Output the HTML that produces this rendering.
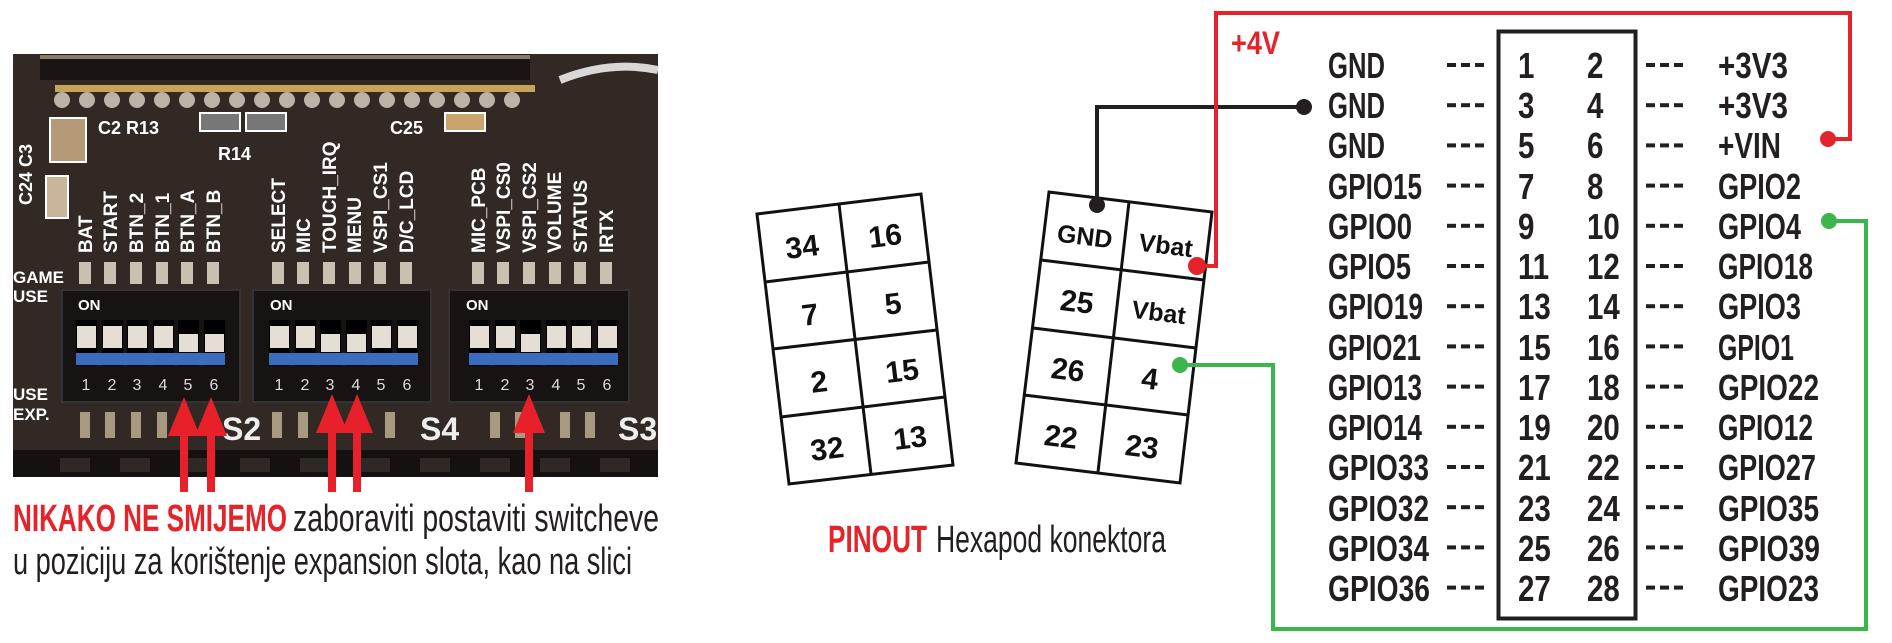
<!DOCTYPE html>
<html><head><meta charset="utf-8"><style>
html,body{margin:0;padding:0;background:#fff;}
svg{display:block;}
</style></head><body>
<svg width="1892" height="643" viewBox="0 0 1892 643" xmlns="http://www.w3.org/2000/svg" font-family="Liberation Sans, sans-serif">
<!-- PHOTO -->
<rect x="13" y="54" width="645" height="423" fill="#322924"/>
<rect x="40" y="54" width="490" height="26" fill="#1a1513"/>
<rect x="40" y="55" width="490" height="4" fill="#8a7a68"/>
<path d="M560 80 Q610 60 658 70" stroke="#d8d8d8" stroke-width="8" fill="none"/>
<rect x="55" y="85" width="480" height="7" fill="#c9a35a"/>
<g fill="#b9b3a8">
<circle cx="62" cy="100" r="8"/><circle cx="87" cy="100" r="8"/><circle cx="112" cy="100" r="8"/><circle cx="137" cy="100" r="8"/><circle cx="162" cy="100" r="8"/><circle cx="187" cy="100" r="8"/><circle cx="212" cy="100" r="8"/><circle cx="237" cy="100" r="8"/><circle cx="262" cy="100" r="8"/><circle cx="287" cy="100" r="8"/><circle cx="312" cy="100" r="8"/><circle cx="337" cy="100" r="8"/><circle cx="362" cy="100" r="8"/><circle cx="387" cy="100" r="8"/><circle cx="412" cy="100" r="8"/><circle cx="437" cy="100" r="8"/><circle cx="462" cy="100" r="8"/><circle cx="487" cy="100" r="8"/><circle cx="512" cy="100" r="8"/>
</g>
<rect x="50" y="118" width="36" height="44" fill="#b59a78" stroke="#fff" stroke-width="2"/>
<rect x="46" y="176" width="22" height="42" fill="#c8b59a" stroke="#fff" stroke-width="2"/>
<rect x="200" y="113" width="40" height="18" fill="#777" stroke="#fff" stroke-width="2"/>
<rect x="246" y="113" width="40" height="18" fill="#777" stroke="#fff" stroke-width="2"/>
<rect x="445" y="113" width="40" height="18" fill="#c9a46c" stroke="#fff" stroke-width="2"/>
<g fill="#fff" font-weight="bold" font-size="18">
<text x="98" y="134">C2 R13</text>
<text x="218" y="160">R14</text>
<text x="390" y="134">C25</text>
<text transform="translate(32,205) rotate(-90)">C24 C3</text>
<text x="13" y="283" font-size="17">GAME</text>
<text x="13" y="302" font-size="17">USE</text>
<text x="13" y="400" font-size="17">USE</text>
<text x="13" y="420" font-size="17">EXP.</text>
</g>
<g fill="#fff" font-weight="bold" font-size="19">
<text transform="translate(92,253) rotate(-90)">BAT</text>
<text transform="translate(117,253) rotate(-90)">START</text>
<text transform="translate(143,253) rotate(-90)">BTN_2</text>
<text transform="translate(169,253) rotate(-90)">BTN_1</text>
<text transform="translate(194,253) rotate(-90)">BTN_A</text>
<text transform="translate(220,253) rotate(-90)">BTN_B</text>
<text transform="translate(285,253) rotate(-90)">SELECT</text>
<text transform="translate(310,253) rotate(-90)">MIC</text>
<text transform="translate(336,253) rotate(-90)">TOUCH_IRQ</text>
<text transform="translate(361,253) rotate(-90)">MENU</text>
<text transform="translate(387,253) rotate(-90)">VSPI_CS1</text>
<text transform="translate(413,253) rotate(-90)">D/C_LCD</text>
<text transform="translate(485,253) rotate(-90)">MIC_PCB</text>
<text transform="translate(510,253) rotate(-90)">VSPI_CS0</text>
<text transform="translate(536,253) rotate(-90)">VSPI_CS2</text>
<text transform="translate(561,253) rotate(-90)">VOLUME</text>
<text transform="translate(587,253) rotate(-90)">STATUS</text>
<text transform="translate(613,253) rotate(-90)">IRTX</text>
</g>
<g fill="#c8c0b0">
<rect x="79" y="262" width="12" height="22"/><rect x="104" y="262" width="12" height="22"/><rect x="130" y="262" width="12" height="22"/><rect x="156" y="262" width="12" height="22"/><rect x="181" y="262" width="12" height="22"/><rect x="207" y="262" width="12" height="22"/>
<rect x="272" y="262" width="12" height="22"/><rect x="297" y="262" width="12" height="22"/><rect x="323" y="262" width="12" height="22"/><rect x="349" y="262" width="12" height="22"/><rect x="374" y="262" width="12" height="22"/><rect x="400" y="262" width="12" height="22"/>
<rect x="472" y="262" width="12" height="22"/><rect x="497" y="262" width="12" height="22"/><rect x="523" y="262" width="12" height="22"/><rect x="549" y="262" width="12" height="22"/><rect x="574" y="262" width="12" height="22"/><rect x="600" y="262" width="12" height="22"/>
</g>
<g>
<rect x="62" y="290" width="178" height="112" fill="#161312" stroke="#333" stroke-width="2"/>
<rect x="253" y="290" width="178" height="112" fill="#161312" stroke="#333" stroke-width="2"/>
<rect x="449" y="290" width="180" height="112" fill="#161312" stroke="#333" stroke-width="2"/>
</g>
<g fill="#fff" font-weight="bold" font-size="15">
<text x="78" y="310">ON</text><text x="270" y="310">ON</text><text x="466" y="310">ON</text>
</g>
<g fill="#000">
<rect x="76" y="320" width="21" height="46"/><rect x="102" y="320" width="21" height="46"/><rect x="127" y="320" width="21" height="46"/><rect x="153" y="320" width="21" height="46"/><rect x="178" y="320" width="21" height="46"/><rect x="204" y="320" width="21" height="46"/>
<rect x="269" y="320" width="21" height="46"/><rect x="295" y="320" width="21" height="46"/><rect x="320" y="320" width="21" height="46"/><rect x="346" y="320" width="21" height="46"/><rect x="371" y="320" width="21" height="46"/><rect x="397" y="320" width="21" height="46"/>
<rect x="469" y="320" width="21" height="46"/><rect x="495" y="320" width="21" height="46"/><rect x="520" y="320" width="21" height="46"/><rect x="546" y="320" width="21" height="46"/><rect x="571" y="320" width="21" height="46"/><rect x="597" y="320" width="21" height="46"/>
</g>
<g fill="#3a6cc0">
<rect x="76" y="353" width="149" height="12"/><rect x="269" y="353" width="149" height="12"/><rect x="469" y="353" width="149" height="12"/>
</g>
<g fill="#e4ded4">
<rect x="77" y="326" width="19" height="22"/><rect x="103" y="326" width="19" height="22"/><rect x="128" y="326" width="19" height="22"/><rect x="154" y="326" width="19" height="22"/><rect x="179" y="334" width="19" height="18"/><rect x="205" y="334" width="19" height="18"/>
<rect x="270" y="326" width="19" height="22"/><rect x="296" y="326" width="19" height="22"/><rect x="321" y="334" width="19" height="18"/><rect x="347" y="334" width="19" height="18"/><rect x="372" y="326" width="19" height="22"/><rect x="398" y="326" width="19" height="22"/>
<rect x="470" y="326" width="19" height="22"/><rect x="496" y="326" width="19" height="22"/><rect x="521" y="334" width="19" height="18"/><rect x="547" y="326" width="19" height="22"/><rect x="572" y="326" width="19" height="22"/><rect x="598" y="326" width="19" height="22"/>
</g>
<g fill="#ddd" font-size="16" text-anchor="middle">
<text x="86" y="390">1</text><text x="112" y="390">2</text><text x="137" y="390">3</text><text x="163" y="390">4</text><text x="188" y="390">5</text><text x="214" y="390">6</text>
<text x="279" y="390">1</text><text x="305" y="390">2</text><text x="330" y="390">3</text><text x="356" y="390">4</text><text x="381" y="390">5</text><text x="407" y="390">6</text>
<text x="479" y="390">1</text><text x="505" y="390">2</text><text x="530" y="390">3</text><text x="556" y="390">4</text><text x="581" y="390">5</text><text x="607" y="390">6</text>
</g>
<g fill="#a89a80">
<rect x="80" y="412" width="10" height="26"/><rect x="105" y="412" width="10" height="26"/><rect x="131" y="412" width="10" height="26"/><rect x="157" y="412" width="10" height="26"/>
<rect x="272" y="412" width="10" height="26"/><rect x="298" y="412" width="10" height="26"/><rect x="385" y="412" width="10" height="26"/>
<rect x="490" y="412" width="10" height="26"/><rect x="515" y="412" width="10" height="26"/><rect x="560" y="412" width="10" height="26"/><rect x="585" y="412" width="10" height="26"/>
</g>
<g fill="#eee" font-weight="bold" font-size="32">
<text x="222" y="440">S2</text><text x="420" y="440">S4</text><text x="618" y="440">S3</text>
</g>
<rect x="13" y="450" width="645" height="27" fill="#141110"/>
<g fill="#2e2826"><rect x="60" y="458" width="30" height="14"/><rect x="120" y="458" width="30" height="14"/><rect x="180" y="458" width="30" height="14"/><rect x="240" y="458" width="30" height="14"/><rect x="300" y="458" width="30" height="14"/><rect x="360" y="458" width="30" height="14"/><rect x="420" y="458" width="30" height="14"/><rect x="480" y="458" width="30" height="14"/><rect x="540" y="458" width="30" height="14"/><rect x="600" y="458" width="30" height="14"/></g>
<g fill="#e8202a">
<rect x="180" y="420" width="8" height="72"/><polygon points="184,397 168,436 200,436"/>
<rect x="207" y="420" width="8" height="72"/><polygon points="211,397 195,436 227,436"/>
<rect x="328" y="420" width="8" height="72"/><polygon points="332,394 316,433 348,433"/>
<rect x="353" y="420" width="8" height="72"/><polygon points="357,394 341,433 373,433"/>
<rect x="525" y="420" width="8" height="72"/><polygon points="529,394 513,433 545,433"/>
</g>
<text x="13" y="531" font-size="38" font-weight="bold" fill="#e4232b" textLength="274" lengthAdjust="spacingAndGlyphs">NIKAKO NE SMIJEMO</text>
<text x="293" y="531" font-size="38" fill="#231f20" textLength="366" lengthAdjust="spacingAndGlyphs">zaboraviti postaviti switcheve</text>
<text x="13" y="574" font-size="38" fill="#231f20" textLength="619" lengthAdjust="spacingAndGlyphs">u poziciju za korištenje expansion slota, kao na slici</text>

<g fill="none" stroke="#111" stroke-width="3">
<polygon points="757,214 921,194 953,465 789,484" fill="#fff"/>
<line x1="839" y1="204" x2="871" y2="474"/>
<line x1="765" y1="282" x2="929" y2="262"/>
<line x1="773" y1="349" x2="937" y2="330"/>
<line x1="781" y1="417" x2="945" y2="397"/>
</g>
<g font-weight="bold" font-size="30" fill="#111" text-anchor="middle">
<text x="802" y="257" transform="rotate(-7 802 246)">34</text>
<text x="885" y="246" transform="rotate(-7 885 235)">16</text>
<text x="810" y="325" transform="rotate(-7 810 314)">7</text>
<text x="893" y="314" transform="rotate(-7 893 303)">5</text>
<text x="819" y="392" transform="rotate(-7 819 381)">2</text>
<text x="902" y="381" transform="rotate(-7 902 370)">15</text>
<text x="827" y="459" transform="rotate(-7 827 448)">32</text>
<text x="910" y="448" transform="rotate(-7 910 437)">13</text>
</g>
<g fill="none" stroke="#111" stroke-width="3">
<polygon points="1049,192 1212,212 1180,483 1016,463" fill="#fff"/>
<line x1="1129" y1="202" x2="1098" y2="472"/>
<line x1="1041" y1="260" x2="1204" y2="280"/>
<line x1="1033" y1="328" x2="1196" y2="348"/>
<line x1="1024" y1="395" x2="1188" y2="415"/>
</g>
<g font-weight="bold" font-size="30" fill="#111" text-anchor="middle">
<text x="1085" y="245" font-size="25" transform="rotate(7 1085 235)">GND</text>
<text x="1166" y="254" font-size="25" transform="rotate(7 1166 244)">Vbat</text>
<text x="1077" y="312" transform="rotate(7 1077 301)">25</text>
<text x="1159" y="321" font-size="25" transform="rotate(7 1159 311)">Vbat</text>
<text x="1068" y="380" transform="rotate(7 1068 369)">26</text>
<text x="1150" y="389" transform="rotate(7 1150 378)">4</text>
<text x="1061" y="447" transform="rotate(7 1061 436)">22</text>
<text x="1142" y="457" transform="rotate(7 1142 446)">23</text>
</g>
<text x="828" y="552" font-size="38" font-weight="bold" fill="#e4232b" textLength="99" lengthAdjust="spacingAndGlyphs">PINOUT</text>
<text x="936" y="552" font-size="38" fill="#231f20" textLength="230" lengthAdjust="spacingAndGlyphs">Hexapod konektora</text>

<polyline points="1097,207 1097,107 1304,107" fill="none" stroke="#231f20" stroke-width="4"/>
<circle cx="1097" cy="205" r="8" fill="#231f20"/><circle cx="1304" cy="107" r="8" fill="#231f20"/>
<polyline points="1197,266 1216,266 1216,13 1850,13 1850,139 1828,139" fill="none" stroke="#e4232b" stroke-width="4"/>
<circle cx="1197" cy="266" r="9" fill="#e4232b"/><circle cx="1828" cy="139" r="8" fill="#e4232b"/>
<polyline points="1180,365 1273,365 1273,629 1866,629 1866,221 1829,221" fill="none" stroke="#3cb54a" stroke-width="4"/>
<circle cx="1180" cy="365" r="8" fill="#3cb54a"/><circle cx="1829" cy="221" r="8" fill="#3cb54a"/>
<text x="1231" y="54" font-size="32" font-weight="bold" fill="#e4232b" textLength="49" lengthAdjust="spacingAndGlyphs">+4V</text>

<rect x="1498.5" y="31.5" width="137" height="587" fill="none" stroke="#231f20" stroke-width="4"/>
<g font-weight="bold" font-size="36" fill="#231f20">
<text x="1328" y="78" textLength="57" lengthAdjust="spacingAndGlyphs">GND</text>
<text x="1328" y="118" textLength="57" lengthAdjust="spacingAndGlyphs">GND</text>
<text x="1328" y="158" textLength="57" lengthAdjust="spacingAndGlyphs">GND</text>
<text x="1328" y="199" textLength="94" lengthAdjust="spacingAndGlyphs">GPIO15</text>
<text x="1328" y="239" textLength="84" lengthAdjust="spacingAndGlyphs">GPIO0</text>
<text x="1328" y="279" textLength="83" lengthAdjust="spacingAndGlyphs">GPIO5</text>
<text x="1328" y="319" textLength="95" lengthAdjust="spacingAndGlyphs">GPIO19</text>
<text x="1328" y="360" textLength="93" lengthAdjust="spacingAndGlyphs">GPIO21</text>
<text x="1328" y="400" textLength="94" lengthAdjust="spacingAndGlyphs">GPIO13</text>
<text x="1328" y="440" textLength="94" lengthAdjust="spacingAndGlyphs">GPIO14</text>
<text x="1328" y="480" textLength="101" lengthAdjust="spacingAndGlyphs">GPIO33</text>
<text x="1328" y="521" textLength="101" lengthAdjust="spacingAndGlyphs">GPIO32</text>
<text x="1328" y="561" textLength="101" lengthAdjust="spacingAndGlyphs">GPIO34</text>
<text x="1328" y="601" textLength="102" lengthAdjust="spacingAndGlyphs">GPIO36</text>
<text x="1718" y="78" textLength="70" lengthAdjust="spacingAndGlyphs">+3V3</text>
<text x="1718" y="118" textLength="70" lengthAdjust="spacingAndGlyphs">+3V3</text>
<text x="1718" y="158" textLength="63" lengthAdjust="spacingAndGlyphs">+VIN</text>
<text x="1718" y="199" textLength="83" lengthAdjust="spacingAndGlyphs">GPIO2</text>
<text x="1718" y="239" textLength="83" lengthAdjust="spacingAndGlyphs">GPIO4</text>
<text x="1718" y="279" textLength="95" lengthAdjust="spacingAndGlyphs">GPIO18</text>
<text x="1718" y="319" textLength="83" lengthAdjust="spacingAndGlyphs">GPIO3</text>
<text x="1718" y="360" textLength="76" lengthAdjust="spacingAndGlyphs">GPIO1</text>
<text x="1718" y="400" textLength="101" lengthAdjust="spacingAndGlyphs">GPIO22</text>
<text x="1718" y="440" textLength="95" lengthAdjust="spacingAndGlyphs">GPIO12</text>
<text x="1718" y="480" textLength="98" lengthAdjust="spacingAndGlyphs">GPIO27</text>
<text x="1718" y="521" textLength="101" lengthAdjust="spacingAndGlyphs">GPIO35</text>
<text x="1718" y="561" textLength="102" lengthAdjust="spacingAndGlyphs">GPIO39</text>
<text x="1718" y="601" textLength="101" lengthAdjust="spacingAndGlyphs">GPIO23</text>
</g>
<g fill="#231f20">
<g id="dl">
<rect x="1447" y="63" width="9" height="4"/><rect x="1461" y="63" width="9" height="4"/><rect x="1475" y="63" width="9" height="4"/>
<rect x="1646" y="63" width="9" height="4"/><rect x="1660" y="63" width="9" height="4"/><rect x="1674" y="63" width="9" height="4"/>
</g>
<use href="#dl" y="40.2"/><use href="#dl" y="80.4"/><use href="#dl" y="120.6"/><use href="#dl" y="160.8"/><use href="#dl" y="201"/><use href="#dl" y="241.2"/><use href="#dl" y="281.4"/><use href="#dl" y="321.6"/><use href="#dl" y="361.8"/><use href="#dl" y="402"/><use href="#dl" y="442.2"/><use href="#dl" y="482.4"/><use href="#dl" y="522.6"/>
</g>
<g font-weight="bold" font-size="36" fill="#231f20">
<text transform="translate(1518,78) scale(.82,1)">1</text><text transform="translate(1587,78) scale(.82,1)">2</text>
<text transform="translate(1518,118) scale(.82,1)">3</text><text transform="translate(1587,118) scale(.82,1)">4</text>
<text transform="translate(1518,158) scale(.82,1)">5</text><text transform="translate(1587,158) scale(.82,1)">6</text>
<text transform="translate(1518,199) scale(.82,1)">7</text><text transform="translate(1587,199) scale(.82,1)">8</text>
<text transform="translate(1518,239) scale(.82,1)">9</text><text transform="translate(1587,239) scale(.82,1)">10</text>
<text transform="translate(1518,279) scale(.82,1)">11</text><text transform="translate(1587,279) scale(.82,1)">12</text>
<text transform="translate(1518,319) scale(.82,1)">13</text><text transform="translate(1587,319) scale(.82,1)">14</text>
<text transform="translate(1518,360) scale(.82,1)">15</text><text transform="translate(1587,360) scale(.82,1)">16</text>
<text transform="translate(1518,400) scale(.82,1)">17</text><text transform="translate(1587,400) scale(.82,1)">18</text>
<text transform="translate(1518,440) scale(.82,1)">19</text><text transform="translate(1587,440) scale(.82,1)">20</text>
<text transform="translate(1518,480) scale(.82,1)">21</text><text transform="translate(1587,480) scale(.82,1)">22</text>
<text transform="translate(1518,521) scale(.82,1)">23</text><text transform="translate(1587,521) scale(.82,1)">24</text>
<text transform="translate(1518,561) scale(.82,1)">25</text><text transform="translate(1587,561) scale(.82,1)">26</text>
<text transform="translate(1518,601) scale(.82,1)">27</text><text transform="translate(1587,601) scale(.82,1)">28</text>
</g>
</svg>
</body></html>
